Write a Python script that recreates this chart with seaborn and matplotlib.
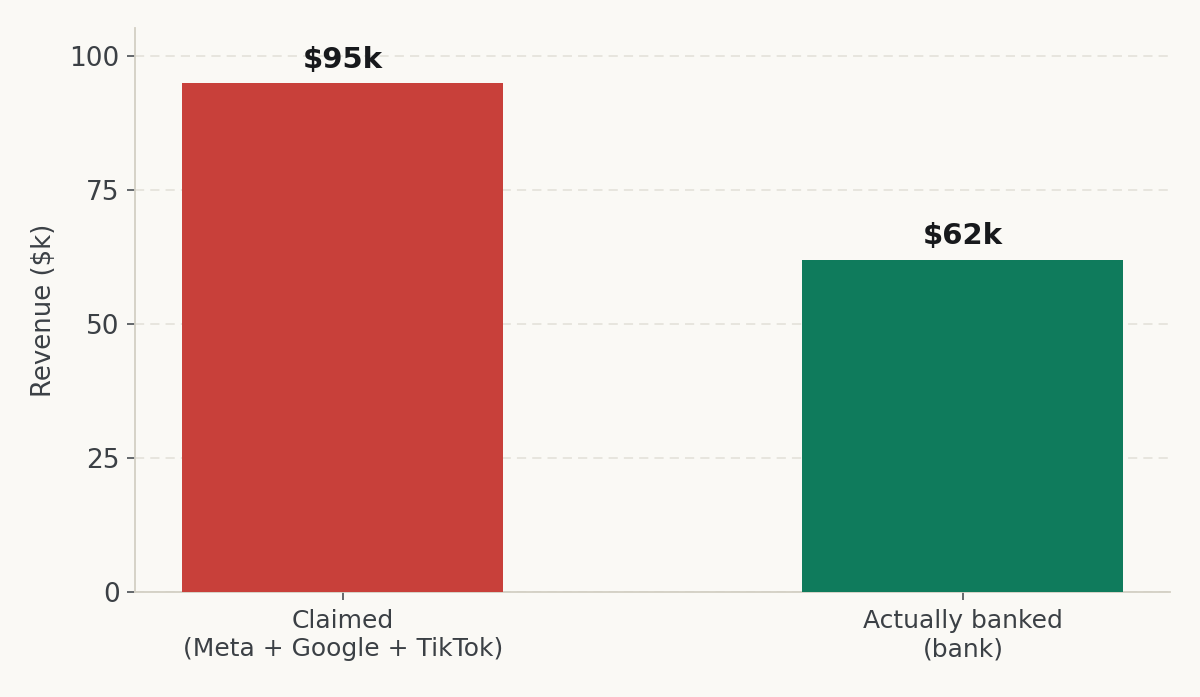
import matplotlib
matplotlib.use("Agg")
import matplotlib.pyplot as plt
import seaborn as sns
import pandas as pd

categories = ["Claimed\n(Meta + Google + TikTok)", "Actually banked\n(bank)"]
values = [95, 62]
labels = ["$95k", "$62k"]
colors = ["#C8403A", "#0F7B5C"]
yticks = [0, 25, 50, 75, 100]

bg = "#FAF9F5"
sns.set_theme(style="white")
plt.rcParams["font.family"] = ["DejaVu Sans"]

fig = plt.figure(figsize=(12, 6.97), dpi=100, facecolor=bg)
ax = fig.add_axes([135/1200, 1-592/697, (1170-135)/1200, (592-28)/697])
ax.set_facecolor(bg)

df = pd.DataFrame({"cat": categories, "val": values})
sns.barplot(data=df, x="cat", y="val", hue="cat", palette=colors, width=0.518,
            legend=False, ax=ax, saturation=1, zorder=3, linewidth=0)

for i, (v, t) in enumerate(zip(values, labels)):
    ax.text(i, v + 1.7, t, ha="center", va="bottom", fontsize=21,
            fontweight="bold", color="#17191c", zorder=4)

ax.set_xlim(-0.335, 1.334)
ax.set_ylim(0, 105.2)
ax.set_yticks(yticks)
ax.yaxis.grid(True, linestyle=(0, (6, 4)), color="#E2DFD7", linewidth=1.1, zorder=0)
ax.xaxis.grid(False)
ax.set_axisbelow(True)

for s in ["top", "right"]:
    ax.spines[s].set_visible(False)
for s in ["left", "bottom"]:
    ax.spines[s].set_color("#D3CFC4")
    ax.spines[s].set_linewidth(1.3)

ax.tick_params(axis="both", which="both", colors="#3B4045",
               length=6, width=1.1, direction="out", left=True, bottom=True, pad=5)
ax.tick_params(axis="y", labelsize=19)
ax.tick_params(axis="x", labelsize=18, pad=6)
for lab in ax.get_xticklabels():
    lab.set_linespacing(1.25)
ax.set_xlabel("")
ax.set_ylabel("Revenue ($k)", fontsize=18.7, color="#3B4045", labelpad=9)

fig.savefig("out.png", dpi=100, facecolor=bg)
